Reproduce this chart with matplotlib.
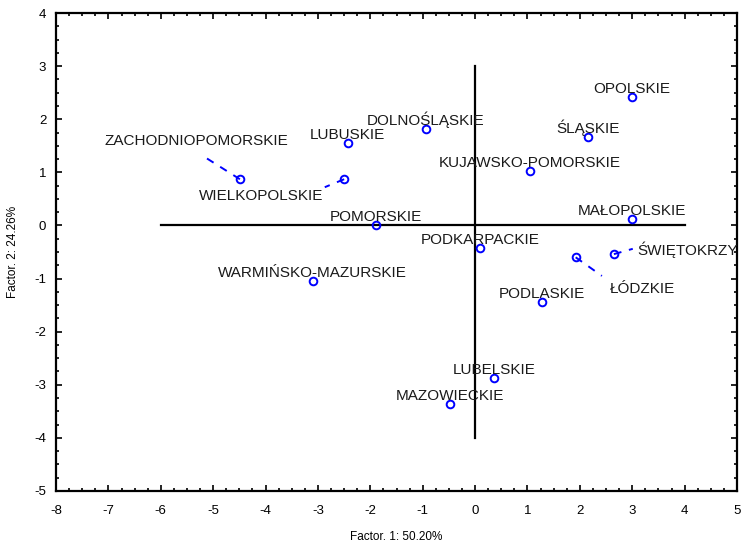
import matplotlib
matplotlib.use("Agg")
import matplotlib.pyplot as plt
from matplotlib.ticker import MultipleLocator

plt.rcParams['font.family'] = ['Liberation Sans', 'DejaVu Sans']
plt.rcParams['axes.unicode_minus'] = False

regions = ['OPOLSKIE', 'ŚLĄSKIE', 'KUJAWSKO-POMORSKIE', 'DOLNOŚLĄSKIE', 'LUBUSKIE',
           'ZACHODNIOPOMORSKIE', 'WIELKOPOLSKIE', 'POMORSKIE', 'MAŁOPOLSKIE',
           'PODKARPACKIE', 'ŚWIĘTOKRZYSKIE', 'ŁÓDZKIE', 'PODLASKIE',
           'WARMIŃSKO-MAZURSKIE', 'LUBELSKIE', 'MAZOWIECKIE']
factor1 = [2.99, 2.15, 1.05, -0.94, -2.43, -4.49, -2.50, -1.89, 2.99,
           0.09, 2.65, 1.92, 1.27, -3.10, 0.36, -0.48]
factor2 = [2.42, 1.66, 1.02, 1.82, 1.55, 0.87, 0.87, 0.01, 0.12,
           -0.43, -0.54, -0.60, -1.44, -1.05, -2.87, -3.36]

# labels moved away from their point, with a dashed leader line
moved = {
    'ZACHODNIOPOMORSKIE': ((-5.33, 1.59), (-5.23, 1.33), 'center'),
    'WIELKOPOLSKIE': ((-4.09, 0.55), (-2.87, 0.72), 'center'),
    'ŚWIĘTOKRZYSKIE': ((3.09, -0.46), (3.01, -0.44), 'left'),
    'ŁÓDZKIE': ((2.58, -1.20), (2.42, -0.95), 'left'),
}

fig = plt.figure(figsize=(7.49, 5.51), dpi=100)
ax = fig.add_axes([0.0748, 0.1089, 0.9092, 0.8675])

ax.plot([-6, 4], [0, 0], color='black', lw=1.6)
ax.plot([0, 0], [-4, 3], color='black', lw=1.6)

ax.plot(factor1, factor2, 'o', ls='none', mfc='none', mec='blue', ms=5.5, mew=1.4)

for name, x, y in zip(regions, factor1, factor2):
    if name in moved:
        (tx, ty), (lx, ly), ha = moved[name]
        ax.plot([x, lx], [y, ly], color='blue', ls=(0, (4, 4)), lw=1.4)
        ax.text(tx, ty, name, ha=ha, va='center', fontsize=11, color='#1a1a1a', clip_on=True)
    else:
        ax.annotate(name, (x, y), xytext=(0, 3), textcoords='offset points',
                    ha='center', va='baseline', fontsize=11, color='#1a1a1a')

ax.set_xlim(-8, 5)
ax.set_ylim(-5, 4)
ax.xaxis.set_major_locator(MultipleLocator(1))
ax.yaxis.set_major_locator(MultipleLocator(1))
ax.xaxis.set_minor_locator(MultipleLocator(0.25))
ax.yaxis.set_minor_locator(MultipleLocator(0.25))
ax.tick_params(which='both', direction='in', top=True, right=True, width=1.2)
ax.tick_params(which='major', length=4, labelsize=9.5)
ax.tick_params(axis='x', which='major', pad=10)
ax.tick_params(axis='y', which='major', pad=7)
ax.tick_params(which='minor', length=2)
for s in ax.spines.values():
    s.set_linewidth(1.6)

ax.set_xlabel('Factor. 1: 50.20%', fontsize=8.5, labelpad=10)
ax.set_ylabel('Factor. 2: 24.26%', fontsize=8.5, labelpad=11)

fig.savefig('out.png', dpi=100)
